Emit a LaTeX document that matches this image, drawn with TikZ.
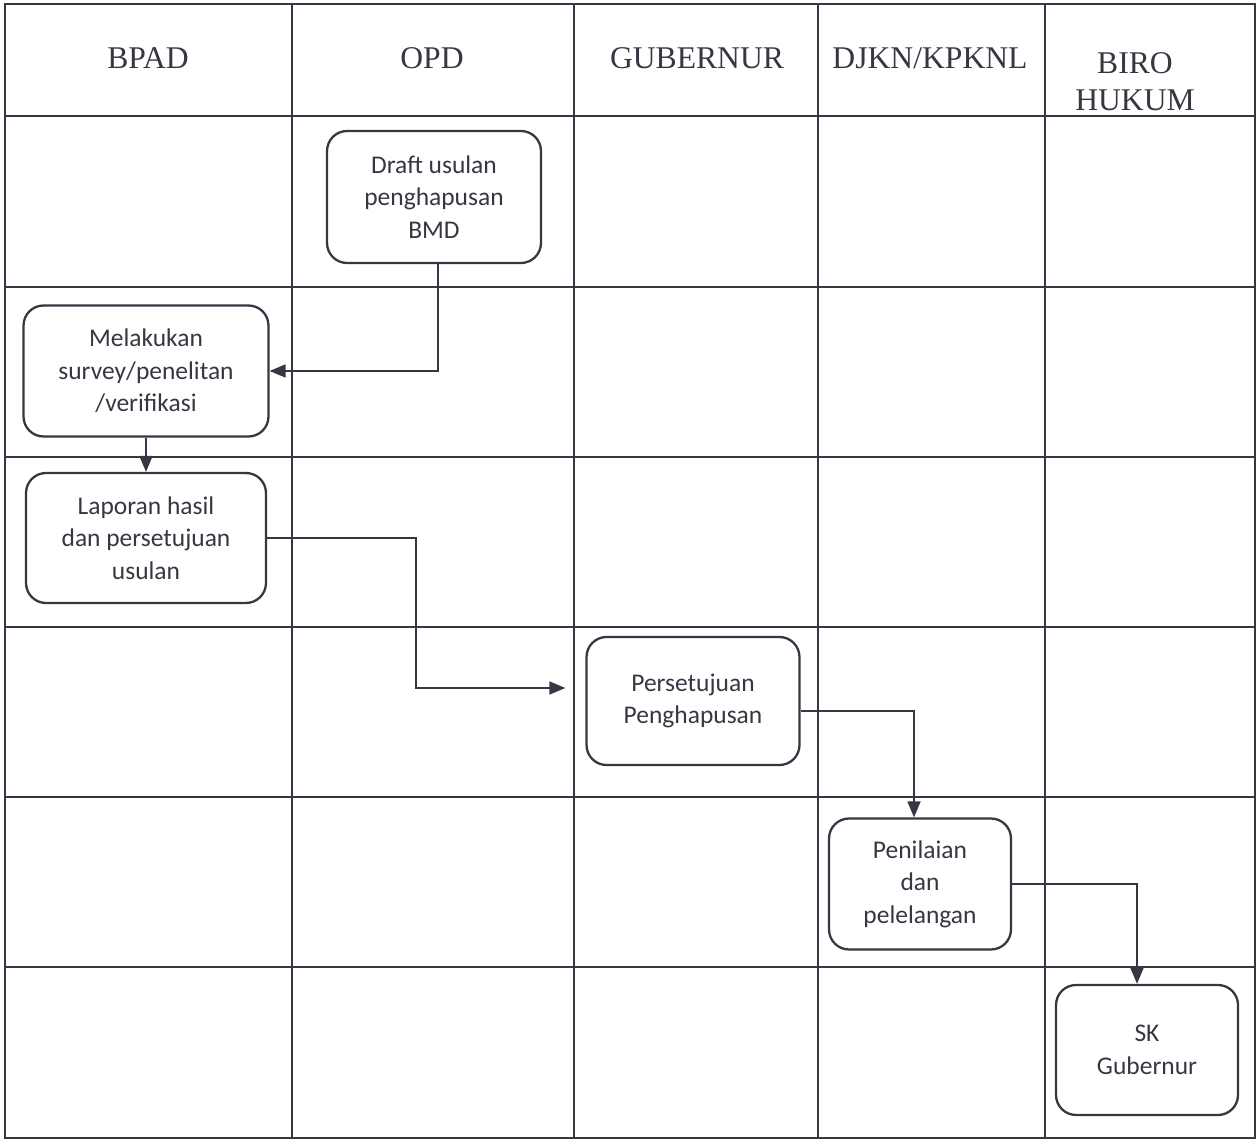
\documentclass[tikz,border=0pt]{standalone}
\usepackage{fontspec}
\setmainfont{Liberation Serif}
\newfontfamily\boxfont{Carlito}
\usetikzlibrary{arrows.meta}
\definecolor{ink}{RGB}{55,55,68}

\begin{document}
\begin{tikzpicture}[x=0.02cm, y=-0.02cm, color=ink,
    box/.style={draw, rounded corners=0.4cm, line width=1.3pt, align=center, inner sep=0pt,
      font=\boxfont\fontsize{14.5}{18.5}\selectfont},
    lane/.style={align=center, font=\fontsize{18}{21}\selectfont},
    flow/.style={line width=1pt, -{Triangle[length=0.32cm,width=0.26cm]}}]
    \useasboundingbox (0,0) rectangle (1257,1141);

    % swimlane grid
    \draw[line width=0.8pt] (5,4) rectangle (1255,1138);
    \foreach \x in {292,574,818,1045}
        \draw[line width=0.8pt] (\x,4) -- (\x,1138);
    \foreach \y in {116,287,457,627,797,967}
        \draw[line width=0.8pt] (5,\y) -- (1255,\y);

    % lane headers
    \node[lane] (h1) at (148, 58) {BPAD};
    \node[lane] (h2) at (432, 58) {OPD};
    \node[lane] (h3) at (697, 58) {GUBERNUR};
    \node[lane] (h4) at (930, 58) {DJKN/KPKNL};
    \node[lane] (h5) at (1135, 82) {BIRO\\HUKUM};

    % steps
    \node[box, minimum width=4.28cm, minimum height=2.64cm] (draft) at (434, 197) {Draft usulan\\penghapusan\\BMD};
    \node[box, minimum width=4.9cm, minimum height=2.62cm] (survey) at (146, 371) {Melakukan\\survey/penelitan\\/verifikasi};
    \node[box, minimum width=4.8cm, minimum height=2.6cm] (laporan) at (146, 538) {Laporan hasil\\dan persetujuan\\usulan};
    \node[box, minimum width=4.26cm, minimum height=2.56cm] (setuju) at (693, 701) {Persetujuan\\Penghapusan};
    \node[box, minimum width=3.64cm, minimum height=2.62cm] (nilai) at (920, 884) {Penilaian\\dan\\pelelangan};
    \node[box, minimum width=3.64cm, minimum height=2.6cm] (sk) at (1147, 1050) {SK\\Gubernur};

    % flow
    \draw[flow] ([xshift=0.08cm]draft.south) |- (survey.east);
    \draw[flow] (survey) -- (laporan);
    \draw[flow, shorten >=0.4cm] (laporan.east) -- ++(149,0) |- ([yshift=0.26cm]setuju.west);
    \draw[flow] ([yshift=-0.2cm]setuju.east) -| ([xshift=-0.12cm]nilai.north);
    \draw[flow] (nilai.east) -| ([xshift=-0.2cm]sk.north);
\end{tikzpicture}
\end{document}
